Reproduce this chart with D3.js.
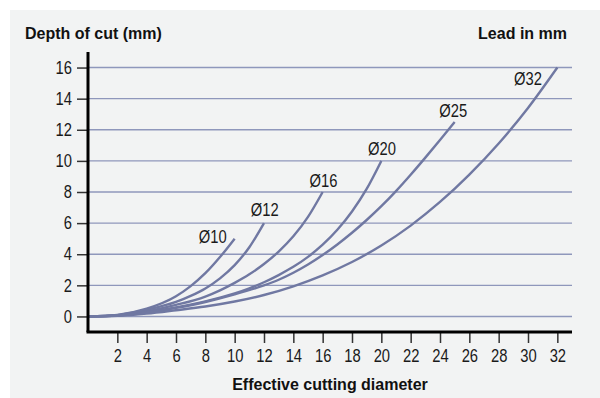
<!DOCTYPE html>
<html>
<head>
<meta charset="utf-8">
<script src="https://cdn.jsdelivr.net/npm/d3@7"></script>
<style>
  html, body { margin: 0; padding: 0; background: #ffffff; }
  svg { display: block; }
  .num { font-family: "Liberation Sans", Arial, sans-serif; font-size: 18px; fill: #1a1a1a; }
  .title { font-family: "Liberation Sans", Arial, sans-serif; font-size: 16px; font-weight: bold; fill: #111; }
</style>
</head>
<body>
<svg id="chart" width="600" height="398"></svg>
<script>
// ---- Data ----
const seriesNames = ["Ø10", "Ø12", "Ø16", "Ø20", "Ø25", "Ø32"];

const d10x = [0, 2, 4, 6, 7, 8, 9, 10];
const d10y = [0, 0.1, 0.5, 1.3, 1.95, 2.78, 3.82, 5.0];

const d12x = [0, 2, 4, 6, 7, 8, 9, 10, 11, 12];
const d12y = [0, 0.08, 0.43, 0.93, 1.32, 1.8, 2.45, 3.3, 4.45, 6];

const d16x = [0, 2, 4, 6, 8, 9, 10, 11, 12, 13, 14, 15, 16];
const d16y = [0, 0.07, 0.33, 0.74, 1.28, 1.68, 2.16, 2.71, 3.37, 4.17, 5.15, 6.4, 8];

const d20x = [0, 2, 4, 6, 8, 10, 11, 12, 13, 14, 15, 16, 17, 18, 19, 20];
const d20y = [0, 0.06, 0.28, 0.58, 0.97, 1.48, 1.81, 2.2, 2.66, 3.19, 3.83, 4.61, 5.57, 6.75, 8.2, 10];

const d25x = [0, 2, 4, 6, 8, 10, 12, 13, 14, 15, 16, 17, 18, 19, 20, 21, 22, 23, 24, 25];
const d25y = [0, 0.05, 0.25, 0.55, 0.93, 1.42, 2.0, 2.36, 2.81, 3.34, 3.95, 4.63, 5.38, 6.2, 7.09, 8.06, 9.11, 10.21, 11.34, 12.5];

const d32x = [0, 2, 4, 6, 8, 10, 12, 14, 16, 18, 20, 22, 24, 26, 28, 30, 32];
const d32y = [0, 0.04, 0.18, 0.4, 0.64, 0.96, 1.38, 1.94, 2.64, 3.5, 4.56, 5.84, 7.36, 9.12, 11.12, 13.4, 16];

// label anchor points (data units)
const labelX = [8.5, 12.05, 16.05, 20.05, 24.9, 30.0];
const labelY = [4.7, 6.45, 8.35, 10.4, 12.85, 14.9];

const xTicks = [2, 4, 6, 8, 10, 12, 14, 16, 18, 20, 22, 24, 26, 28, 30, 32];
const yTicks = [0, 2, 4, 6, 8, 10, 12, 14, 16];

const yTitle = "Depth of cut (mm)";
const rightTitle = "Lead in mm";
const xTitle = "Effective cutting diameter";

// ---- Drawing ----
const svg = d3.select("#chart");

svg.append("rect").attr("x", 10).attr("y", 10).attr("width", 590).attr("height", 388).attr("fill", "#f2f3f3");

const x = d3.scaleLinear().domain([0, 33]).range([88, 572]);
const y = d3.scaleLinear().domain([-1, 17]).range([332, 52]);

// grid
svg.append("g").selectAll("line").data(yTicks).join("line")
  .attr("x1", x(0)).attr("x2", x(33))
  .attr("y1", d => y(d)).attr("y2", d => y(d))
  .attr("stroke", "#8f97bb").attr("stroke-width", 1.4);

// y axis ticks + labels
const yAxis = svg.append("g").attr("transform", `translate(${x(0)},0)`)
  .call(d3.axisLeft(y).tickValues(yTicks).tickSize(11).tickPadding(5).tickFormat(d3.format("d")));
yAxis.select(".domain").remove();
yAxis.selectAll(".tick line").attr("stroke", "#333").attr("stroke-width", 1.5);
yAxis.selectAll(".tick text").attr("class", "num").attr("font-family", null).attr("font-size", null).attr("fill", null);

// x axis ticks + labels
const xAxis = svg.append("g").attr("transform", `translate(0,${y(-1)})`)
  .call(d3.axisBottom(x).tickValues(xTicks).tickSize(11).tickPadding(6).tickFormat(d3.format("d")));
xAxis.select(".domain").remove();
xAxis.selectAll(".tick line").attr("stroke", "#333").attr("stroke-width", 1.5);
xAxis.selectAll(".tick text").attr("class", "num").attr("font-family", null).attr("font-size", null).attr("fill", null);

// curves
const allX = [d10x, d12x, d16x, d20x, d25x, d32x];
const allY = [d10y, d12y, d16y, d20y, d25y, d32y];
const series = seriesNames.map((name, i) => ({
  name,
  points: allX[i].map((v, j) => [v, allY[i][j]]),
  lx: labelX[i], ly: labelY[i]
}));

const line = d3.line().x(d => x(d[0])).y(d => y(d[1])).curve(d3.curveMonotoneX);

svg.append("g").selectAll("path").data(series).join("path")
  .attr("d", d => line(d.points))
  .attr("fill", "none")
  .attr("stroke", "#7078a2")
  .attr("stroke-width", 2.4)
  .attr("stroke-linecap", "butt");

svg.append("g").selectAll("text").data(series).join("text")
  .attr("class", "num")
  .attr("x", d => x(d.lx)).attr("y", d => y(d.ly))
  .attr("text-anchor", "middle")
  .text(d => d.name);

// condensed look for the numeric labels
svg.selectAll("text.num").each(function () {
  const len = this.getComputedTextLength();
  d3.select(this).attr("textLength", (len * 0.82).toFixed(2)).attr("lengthAdjust", "spacingAndGlyphs");
});

// axis lines
svg.append("line").attr("x1", x(0)).attr("x2", x(0)).attr("y1", y(17)).attr("y2", y(-1))
  .attr("stroke", "#000").attr("stroke-width", 3);
svg.append("line").attr("x1", x(0) - 1.5).attr("x2", x(33)).attr("y1", y(-1)).attr("y2", y(-1))
  .attr("stroke", "#000").attr("stroke-width", 3);

// titles
svg.append("text").attr("class", "title").attr("x", 25).attr("y", 39).text(yTitle);
svg.append("text").attr("class", "title").attr("x", 567).attr("y", 39).attr("text-anchor", "end").text(rightTitle);
svg.append("text").attr("class", "title").attr("x", (x(0) + x(33)) / 2).attr("y", 390).attr("text-anchor", "middle").text(xTitle);
</script>
</body>
</html>
